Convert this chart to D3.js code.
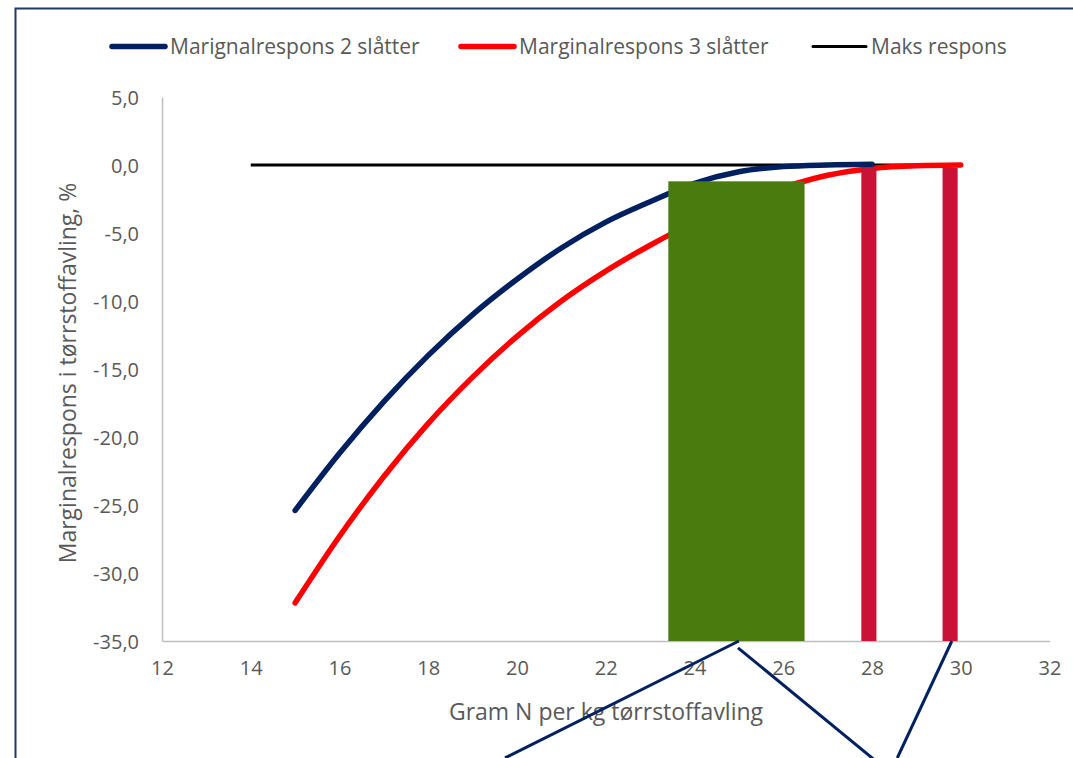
<!DOCTYPE html>
<html>
<head>
<meta charset="utf-8">
<script src="https://cdn.jsdelivr.net/npm/d3@7"></script>
<style>
  html, body { margin: 0; padding: 0; background: #ffffff; }
  svg { display: block; }
  text { font-family: "Open Sans", "Noto Sans", sans-serif; fill: #595959; }
</style>
</head>
<body>
<svg id="chart" width="1073" height="758"></svg>
<script>
// ---- data ----
const seriesNames = ["Marignalrespons 2 slåtter", "Marginalrespons 3 slåtter", "Maks respons"];
const nBlue = [15, 16, 17, 18, 19, 20, 21, 22, 23, 24, 25, 26, 27, 28];
const valBlue = [-25.4, -21.2, -17.4, -14.0, -11.0, -8.4, -6.1, -4.2, -2.7, -1.35, -0.5, -0.12, 0.0, 0.05];
const nRed = [15, 16, 17, 18, 19, 20, 21, 22, 23, 24, 25, 26, 27, 28, 29, 30];
const valRed = [-32.2, -27.3, -22.9, -19.0, -15.6, -12.6, -10.0, -7.8, -5.9, -4.2, -2.8, -1.65, -0.75, -0.25, -0.05, 0.0];
const nMaks = [14, 30];
const valMaks = [0, 0];
const xTicks = [12, 14, 16, 18, 20, 22, 24, 26, 28, 30, 32];
const yTicks = [5, 0, -5, -10, -15, -20, -25, -30, -35];
// annotation boxes (data units): green range and two red markers
const boxX0 = [23.41, 27.76, 29.59];
const boxX1 = [26.48, 28.10, 29.93];
const boxTop = [-1.2, -0.2, -0.2];
// connector lines (data units, extending below the axis)
const connX1 = [25.0, 24.98, 29.8];
const connY1 = [-35.0, -35.5, -35.0];
const connX2 = [19.73, 28.04, 28.57];
const connY2 = [-43.6, -43.7, -43.6];

// ---- layout ----
const svg = d3.select("#chart");
const x = d3.scaleLinear().domain([12, 32]).range([162, 1049.5]);
const y = d3.scaleLinear().domain([-35, 5]).range([641, 97]);

const seriesColors = ["#002060", "#FF0000", "#000000"];
const boxColors = ["#4A7B0E", "#C81236", "#C81236"];

// outer chart border (cropped frame)
svg.append("rect")
  .attr("x", 15.5).attr("y", 8.5).attr("width", 1200).attr("height", 900)
  .attr("fill", "none").attr("stroke", "#1F3864").attr("stroke-width", 2);

// axes
const fmt = v => d3.format(".1f")(v).replace(".", ",").replace("−", "-");
const yAxis = d3.axisLeft(y).tickValues(yTicks).tickSize(0).tickSizeOuter(0).tickPadding(23).tickFormat(fmt);
const xAxis = d3.axisBottom(x).tickValues(xTicks).tickSize(0).tickSizeOuter(0).tickPadding(20).tickFormat(d3.format("d"));

const gy = svg.append("g").attr("transform", `translate(${x(12)},0)`).call(yAxis);
const gx = svg.append("g").attr("transform", `translate(0,${y(-35)})`).call(xAxis);
[gx, gy].forEach(g => {
  g.select(".domain").attr("stroke", "#BFBFBF").attr("stroke-width", 1.5);
  g.selectAll(".tick text").attr("fill", "#595959")
    .style("font-family", '"Open Sans", sans-serif').style("font-size", "20px");
});
gy.selectAll(".tick text").attr("dy", "0.35em");

// axis titles
svg.append("text")
  .attr("x", 606).attr("y", 720).attr("text-anchor", "middle")
  .style("font-size", "23px")
  .text("Gram N per kg tørrstoffavling");
svg.append("text")
  .attr("transform", "translate(76,373) rotate(-90)")
  .attr("text-anchor", "middle")
  .style("font-size", "23px")
  .text("Marginalrespons i tørrstoffavling, %");

// lines
const lineGen = d3.line().x(d => x(d[0])).y(d => y(d[1])).curve(d3.curveMonotoneX);
const maksData = nMaks.map((n, i) => [n, valMaks[i]]);
const blueData = nBlue.map((n, i) => [n, valBlue[i]]);
const redData = nRed.map((n, i) => [n, valRed[i]]);

svg.append("path").datum(maksData).attr("d", lineGen)
  .attr("fill", "none").attr("stroke", seriesColors[2]).attr("stroke-width", 3);
svg.append("path").datum(redData).attr("d", lineGen)
  .attr("fill", "none").attr("stroke", seriesColors[1]).attr("stroke-width", 5.5)
  .attr("stroke-linecap", "round").attr("stroke-linejoin", "round");
svg.append("path").datum(blueData).attr("d", lineGen)
  .attr("fill", "none").attr("stroke", seriesColors[0]).attr("stroke-width", 5.5)
  .attr("stroke-linecap", "round").attr("stroke-linejoin", "round");

// annotation boxes
svg.selectAll("rect.box").data(boxX0).enter().append("rect")
  .attr("class", "box")
  .attr("x", (d, i) => x(boxX0[i]))
  .attr("width", (d, i) => x(boxX1[i]) - x(boxX0[i]))
  .attr("y", (d, i) => y(boxTop[i]))
  .attr("height", (d, i) => y(-35) - y(boxTop[i]))
  .attr("fill", (d, i) => boxColors[i]);

// connector lines
svg.selectAll("line.conn").data(connX1).enter().append("line")
  .attr("class", "conn")
  .attr("x1", (d, i) => x(connX1[i])).attr("y1", (d, i) => y(connY1[i]))
  .attr("x2", (d, i) => x(connX2[i])).attr("y2", (d, i) => y(connY2[i]))
  .attr("stroke", "#002060").attr("stroke-width", 3);

// legend
const legendX = [110, 459, 811];
const legendW = [5.5, 5.5, 3];
const leg = svg.append("g");
seriesNames.forEach((name, i) => {
  leg.append("line")
    .attr("x1", legendX[i] + 2).attr("x2", legendX[i] + 55)
    .attr("y1", 46.5).attr("y2", 46.5)
    .attr("stroke", seriesColors[i]).attr("stroke-width", legendW[i])
    .attr("stroke-linecap", "round");
  leg.append("text")
    .attr("x", legendX[i] + 60).attr("y", 54)
    .style("font-size", "21px")
    .text(name);
});
</script>
</body>
</html>
